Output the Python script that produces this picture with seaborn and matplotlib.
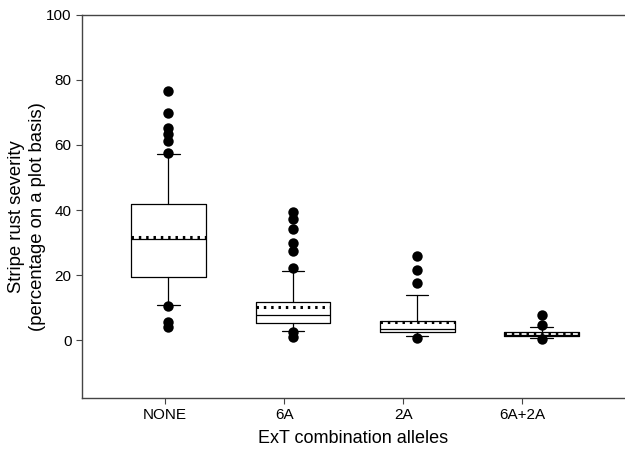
import numpy as np
import pandas as pd
import seaborn as sns
import matplotlib.pyplot as plt

# box summaries (whiskers = 10th/90th percentile)
categories = ["NONE", "6A", "2A", "6A+2A"]
q1 = [19.5, 5.1, 2.5, 1.1]
median = [31.2, 7.8, 3.3, 1.5]
q3 = [42.0, 11.8, 5.8, 2.5]
mean = [31.6, 10.3, 5.6, 1.9]
whisker_low = [10.8, 2.9, 1.2, 0.5]
whisker_high = [57.2, 21.1, 13.8, 4.1]

# outlying points
outliers = {
    "NONE": [76.7, 69.9, 65.1, 63.3, 61.2, 57.6, 10.6, 5.6, 4.1],
    "6A": [39.3, 37.1, 34.2, 29.9, 27.5, 22.2, 2.6, 1.0],
    "2A": [25.8, 21.4, 17.4, 0.5],
    "6A+2A": [7.7, 4.6, 0.3],
}

sns.set_style("ticks")
plt.rcParams["font.family"] = ["Liberation Sans", "DejaVu Sans"]

fig = plt.figure(figsize=(6.25, 4.5), dpi=100)
ax = fig.add_axes([82 / 625, 0.1162, 1 - 82 / 625, 0.9667 - 0.1162])

stats = []
for i, c in enumerate(categories):
    stats.append(dict(label=c, q1=q1[i], med=median[i], q3=q3[i], mean=mean[i],
                      whislo=whisker_low[i], whishi=whisker_high[i], fliers=[]))

lw = 0.9
ax.bxp(stats, positions=range(len(categories)), widths=0.6,
       showmeans=True, meanline=True, showfliers=False,
       boxprops=dict(color="black", linewidth=lw),
       medianprops=dict(color="black", linewidth=lw),
       whiskerprops=dict(color="black", linewidth=lw),
       capprops=dict(color="black", linewidth=lw),
       meanprops=dict(color="black", linewidth=2.2, linestyle=(0, (0.8, 1.6))),
       capwidths=0.18)

out_df = pd.DataFrame([(c, v) for c in categories for v in outliers[c]],
                      columns=["allele", "severity"])
sns.stripplot(data=out_df, x="allele", y="severity", order=categories,
              jitter=False, color="black", size=7.5, linewidth=0, ax=ax, zorder=3)

ax.set_xlim(-0.695, 3.67)
ax.set_ylim(-17.75, 100)
ax.set_yticks([0, 20, 40, 60, 80, 100])
ax.set_xticks([-0.028 + 0.958 * i for i in range(len(categories))])
ax.set_xticklabels(categories)

ax.set_xlabel("ExT combination alleles", fontsize=13, labelpad=6, color="black")
ax.set_ylabel("Stripe rust severity\n(percentage on a plot basis)", fontsize=13.3,
              labelpad=0, color="black", linespacing=1.3, y=0.473)
ax.tick_params(axis="both", labelsize=11, length=4, width=0.8,
               color="#444444", labelcolor="black")

for side in ["left", "bottom", "top"]:
    ax.spines[side].set_color("#444444")
    ax.spines[side].set_linewidth(1.0)
ax.spines["top"].set_visible(True)
ax.spines["right"].set_visible(False)

fig.savefig("out.png", dpi=100)
